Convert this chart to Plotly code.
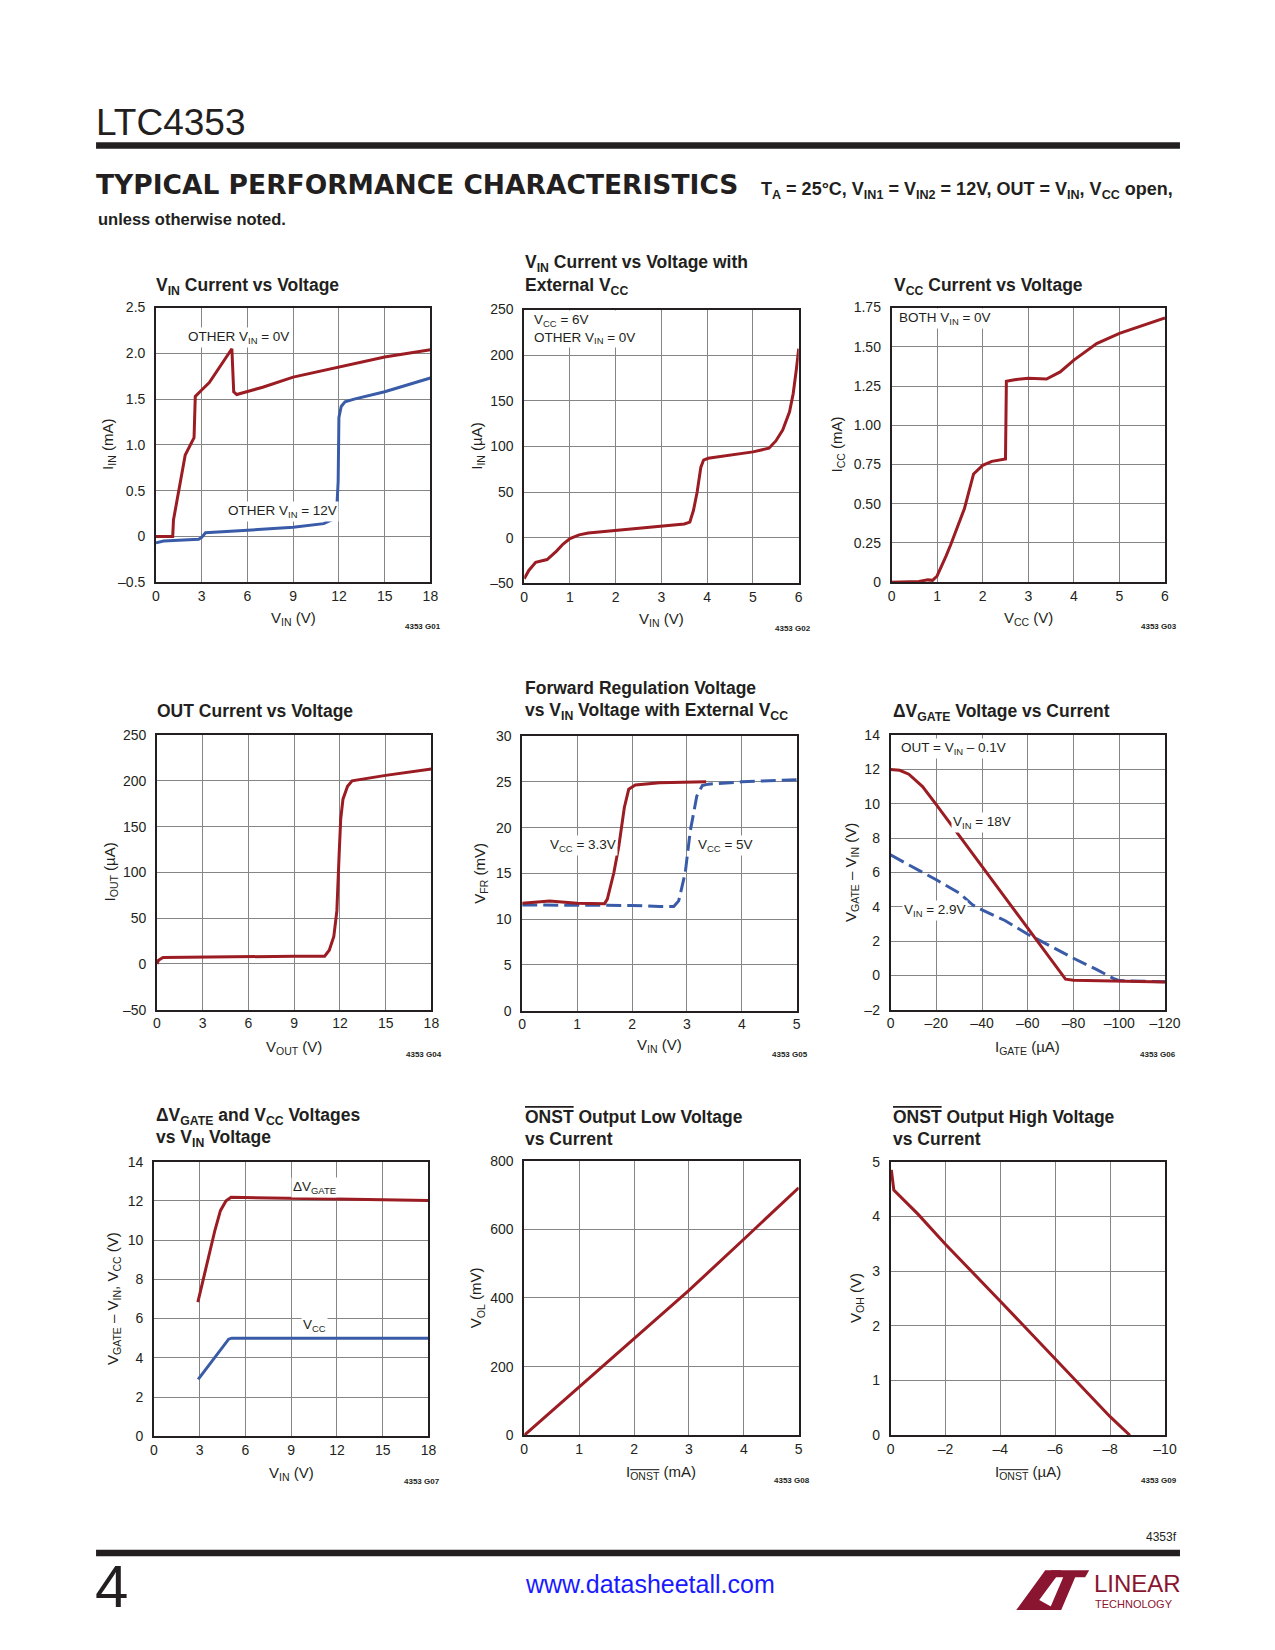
import plotly.graph_objects as go

PAGE_W, PAGE_H = 1275, 1650
OFF = 8                      # default body margin of the html page
W, H = PAGE_W - 2 * OFF, PAGE_H - 2 * OFF
# measured capture correction (page position -> photographed position)
AX, BX = 0.986, 2.9
AY, BY = 0.9913, 6.2
RED = "#9b1c22"
BLUE = "#3a5ca8"
INK = "#231f20"
GRID = "#858585"
FONT = "Liberation Sans, Arial, sans-serif"

# ---------------- data ----------------
# G01  VIN current vs voltage
g01_x_other0 = [0, 1.1, 1.15, 1.4, 1.92, 2.5, 2.58, 3.0, 3.5, 4.98, 5.1, 5.3, 6, 7, 9, 12, 15, 18]
g01_y_other0 = [0, 0, 0.18, 0.42, 0.89, 1.08, 1.53, 1.6, 1.68, 2.05, 1.58, 1.55, 1.58, 1.63, 1.74, 1.85, 1.96, 2.04]
g01_x_other12 = [0, 0.5, 2.8, 3.0, 3.25, 6, 9, 11, 11.5, 11.85, 11.95, 12.0, 12.15, 12.4, 13.0, 15, 18]
g01_y_other12 = [-0.07, -0.05, -0.03, -0.01, 0.04, 0.07, 0.10, 0.14, 0.18, 0.28, 0.6, 1.3, 1.42, 1.47, 1.5, 1.58, 1.73]

# G02  VIN current vs voltage with external VCC
g02_x = [0, 0.1, 0.25, 0.5, 0.7, 0.85, 1.0, 1.2, 1.4, 2.0, 3.0, 3.5, 3.62, 3.7, 3.78, 3.86, 3.92, 4.02, 5.0, 5.35, 5.5, 5.65, 5.8, 5.88, 5.95, 6.0]
g02_y = [-45, -36, -27, -24, -15, -7, -1, 3, 5, 8, 13, 15, 17, 30, 50, 77, 85, 87, 94, 98, 106, 118, 138, 158, 185, 207]

# G03  VCC current vs voltage
g03_x = [0, 0.6, 0.8, 0.9, 1.0, 1.1, 1.2, 1.3, 1.6, 1.8, 1.9, 2.0, 2.2, 2.5, 2.52, 2.7, 3.0, 3.4, 3.7, 4.0, 4.5, 5.0, 6.0]
g03_y = [0, 0.005, 0.015, 0.012, 0.04, 0.1, 0.17, 0.24, 0.47, 0.69, 0.72, 0.745, 0.77, 0.785, 1.28, 1.29, 1.30, 1.295, 1.34, 1.415, 1.52, 1.585, 1.684]

# G04  OUT current vs voltage
g04_x = [0, 0.1, 0.4, 3, 5, 9, 11.0, 11.3, 11.6, 11.8, 11.95, 12.05, 12.2, 12.5, 12.8, 15, 18]
g04_y = [0, 4, 7, 7.5, 8.5, 8.5, 8.5, 15, 30, 58, 120, 158, 180, 194, 200, 206, 213]

# G05  Forward regulation voltage
g05_x_33 = [0, 0.5, 1.0, 1.5, 1.55, 1.67, 1.76, 1.86, 1.94, 2.06, 2.5, 3.35]
g05_y_33 = [11.75, 12.0, 11.75, 11.7, 12.2, 15.1, 18.0, 22.2, 24.2, 24.65, 24.9, 25.0]
g05_x_5 = [0, 1, 2, 2.5, 2.76, 2.85, 2.97, 3.06, 3.18, 3.28, 3.39, 4.0, 5.0]
g05_y_5 = [11.55, 11.55, 11.5, 11.4, 11.4, 12.0, 15.1, 19.6, 23.45, 24.6, 24.75, 25.0, 25.24]

# G06  dVGATE vs current
g06_x_18 = [0, -4, -8, -11, -14, -20, -30, -40, -50, -60, -70, -75, -76.5, -80, -100, -120]
g06_y_18 = [12.0, 11.95, 11.72, 11.35, 11.0, 9.95, 8.15, 6.35, 4.55, 2.73, 0.9, 0.0, -0.22, -0.28, -0.34, -0.38]
g06_x_29 = [0, -10, -20, -30, -36, -40, -50, -60, -70, -80, -90, -98, -100, -120]
g06_y_29 = [7.02, 6.3, 5.57, 4.8, 4.1, 3.82, 3.2, 2.4, 1.7, 1.0, 0.35, -0.21, -0.3, -0.37]

# G07  dVGATE and VCC vs VIN
g07_x_gate = [2.88, 3.5, 4.0, 4.36, 4.73, 5.06, 9, 12, 15, 18]
g07_y_gate = [6.84, 8.9, 10.5, 11.5, 12.0, 12.18, 12.15, 12.1, 12.06, 12.02]
g07_x_vcc = [2.9, 4.9, 5.1, 18]
g07_y_vcc = [2.9, 4.95, 5.0, 5.0]

# G08  ONST output low voltage
g08_x = [0, 1, 2, 3, 4, 5]
g08_y = [0, 141, 280, 422, 571, 721]

# G09  ONST output high voltage
g09_x = [-0.03, -0.12, -1, -2, -4, -6, -8, -8.72]
g09_y = [4.85, 4.48, 4.04, 3.49, 2.45, 1.4, 0.34, 0]

# tick labels
t_x18 = [0, 3, 6, 9, 12, 15, 18]
t_x6 = [0, 1, 2, 3, 4, 5, 6]
t_x5 = [0, 1, 2, 3, 4, 5]
t_g01_y = [-0.5, 0, 0.5, 1.0, 1.5, 2.0, 2.5]
t_g01_ylab = ["–0.5", "0", "0.5", "1.0", "1.5", "2.0", "2.5"]
t_m50_250 = [-50, 0, 50, 100, 150, 200, 250]
t_m50_250_lab = ["–50", "0", "50", "100", "150", "200", "250"]
t_g03_y = [0, 0.25, 0.5, 0.75, 1.0, 1.25, 1.5, 1.75]
t_g03_ylab = ["0", "0.25", "0.50", "0.75", "1.00", "1.25", "1.50", "1.75"]
t_g05_y = [0, 5, 10, 15, 20, 25, 30]
t_g06_x = [0, -20, -40, -60, -80, -100, -120]
t_g06_xlab = ["0", "–20", "–40", "–60", "–80", "–100", "–120"]
t_g06_y = [-2, 0, 2, 4, 6, 8, 10, 12, 14]
t_g06_ylab = ["–2", "0", "2", "4", "6", "8", "10", "12", "14"]
t_g07_y = [0, 2, 4, 6, 8, 10, 12, 14]
t_g08_y = [0, 200, 400, 600, 800]
t_g09_x = [0, -2, -4, -6, -8, -10]
t_g09_xlab = ["0", "–2", "–4", "–6", "–8", "–10"]
t_g09_y = [0, 1, 2, 3, 4, 5]

OV = '<span style="text-decoration:overline">ONST</span>'

# ---------------- panel geometry (target pixels) ----------------
panels = [
    dict(box=(155, 430, 306, 581), xr=[0, 18], yr=[-0.5, 2.5], xt=t_x18, xl=None, yt=t_g01_y, yl=t_g01_ylab),
    dict(box=(524, 799, 308, 582), xr=[0, 6], yr=[-50, 250], xt=t_x6, xl=None, yt=t_m50_250, yl=t_m50_250_lab),
    dict(box=(892, 1166, 306, 581), xr=[0, 6], yr=[0, 1.75], xt=t_x6, xl=None, yt=t_g03_y, yl=t_g03_ylab),
    dict(box=(156, 431, 734, 1009), xr=[0, 18], yr=[-50, 250], xt=t_x18, xl=None, yt=t_m50_250, yl=t_m50_250_lab),
    dict(box=(522, 797, 735, 1010), xr=[0, 5], yr=[0, 30], xt=t_x5, xl=None, yt=t_g05_y, yl=None),
    dict(box=(891, 1166, 734, 1009), xr=[0, -120], yr=[-2, 14], xt=t_g06_x, xl=t_g06_xlab, yt=t_g06_y, yl=t_g06_ylab),
    dict(box=(153, 428, 1161, 1436), xr=[0, 18], yr=[0, 14], xt=t_x18, xl=None, yt=t_g07_y, yl=None),
    dict(box=(524, 799, 1160, 1435), xr=[0, 5], yr=[0, 800], xt=t_x5, xl=None, yt=t_g08_y, yl=None),
    dict(box=(891, 1166, 1161, 1435), xr=[0, -10], yr=[0, 5], xt=t_g09_x, xl=t_g09_xlab, yt=t_g09_y, yl=None),
]

titles = [
    (153, [285], ["V<sub>IN</sub> Current vs Voltage"]),
    (523, [262, 285], ["V<sub>IN</sub> Current vs Voltage with", "External V<sub>CC</sub>"]),
    (892, [285], ["V<sub>CC</sub> Current vs Voltage"]),
    (154, [710], ["OUT Current vs Voltage"]),
    (523, [687, 710], ["Forward Regulation Voltage", "vs V<sub>IN</sub> Voltage with External V<sub>CC</sub>"]),
    (891, [711], ["ΔV<sub>GATE</sub> Voltage vs Current"]),
    (153, [1116, 1138], ["ΔV<sub>GATE</sub> and V<sub>CC</sub> Voltages", "vs V<sub>IN</sub> Voltage"]),
    (523, [1116, 1138], [OV + " Output Low Voltage", "vs Current"]),
    (891, [1116, 1138], [OV + " Output High Voltage", "vs Current"]),
]

axis_titles = [
    ("V<sub>IN</sub> (V)", 617, "I<sub>IN</sub> (mA)", 108),
    ("V<sub>IN</sub> (V)", 618, "I<sub>IN</sub> (µA)", 477),
    ("V<sub>CC</sub> (V)", 617, "I<sub>CC</sub> (mA)", 838),
    ("V<sub>OUT</sub> (V)", 1047, "I<sub>OUT</sub> (µA)", 109),
    ("V<sub>IN</sub> (V)", 1045, "V<sub>FR</sub> (mV)", 480),
    ("I<sub>GATE</sub> (µA)", 1047, "V<sub>GATE</sub> – V<sub>IN</sub> (V)", 852),
    ("V<sub>IN</sub> (V)", 1473, "V<sub>GATE</sub> – V<sub>IN</sub>, V<sub>CC</sub> (V)", 113),
    ("I<sub>" + OV + "</sub> (mA)", 1472, "V<sub>OL</sub> (mV)", 477),
    ("I<sub>" + OV + "</sub> (µA)", 1472, "V<sub>OH</sub> (V)", 857),
]

codes = [("4353 G01", 443, 625), ("4353 G02", 813, 627), ("4353 G03", 1180, 625),
         ("4353 G04", 444, 1054), ("4353 G05", 810, 1054), ("4353 G06", 1179, 1054),
         ("4353 G07", 442, 1481), ("4353 G08", 812, 1480), ("4353 G09", 1180, 1480)]


def px(x):
    return ((x - BX) / AX - OFF) / W


def py(y):
    return 1 - ((y - BY) / AY - OFF) / H


TICK = 14
fig = go.Figure()
layout = dict(width=W, height=H, margin=dict(l=0, r=0, t=0, b=0), autosize=False,
              paper_bgcolor="white", plot_bgcolor="white", showlegend=False,
              font=dict(family=FONT, color=INK, size=TICK))

for i, p in enumerate(panels, start=1):
    l, r, t, b = p["box"]
    xa = dict(domain=[px(l), px(r)], range=p["xr"], tickmode="array", tickvals=p["xt"],
              showgrid=True, gridcolor=GRID, gridwidth=1.3, zeroline=False,
              showline=True, linecolor=INK, linewidth=1.6, mirror=True, ticks="",
              tickfont=dict(family=FONT, size=TICK, color=INK), anchor="y%d" % i,
              fixedrange=True)
    if p["xl"] is not None:
        xa["ticktext"] = p["xl"]
    ya = dict(domain=[py(b), py(t)], range=p["yr"], tickmode="array", tickvals=p["yt"],
              showgrid=True, gridcolor=GRID, gridwidth=1.3, zeroline=False,
              showline=True, linecolor=INK, linewidth=1.6, mirror=True, ticks="",
              tickfont=dict(family=FONT, size=TICK, color=INK), anchor="x%d" % i,
              ticklabelstandoff=6, fixedrange=True)
    if p["yl"] is not None:
        ya["ticktext"] = p["yl"]
    layout["xaxis" if i == 1 else "xaxis%d" % i] = xa
    layout["yaxis" if i == 1 else "yaxis%d" % i] = ya


def add_line(i, x, y, color, dash="solid"):
    fig.add_trace(go.Scatter(x=x, y=y, mode="lines", xaxis="x%d" % i if i > 1 else "x",
                             yaxis="y%d" % i if i > 1 else "y",
                             line=dict(color=color, width=3, dash=dash), hoverinfo="skip"))


DASH = "15px,6px"
add_line(1, g01_x_other12, g01_y_other12, BLUE)
add_line(1, g01_x_other0, g01_y_other0, RED)
add_line(2, g02_x, g02_y, RED)
add_line(3, g03_x, g03_y, RED)
add_line(4, g04_x, g04_y, RED)
add_line(5, g05_x_5, g05_y_5, BLUE, DASH)
add_line(5, g05_x_33, g05_y_33, RED)
add_line(6, g06_x_29, g06_y_29, BLUE, DASH)
add_line(6, g06_x_18, g06_y_18, RED)
add_line(7, g07_x_gate, g07_y_gate, RED)
add_line(7, g07_x_vcc, g07_y_vcc, BLUE)
add_line(8, g08_x, g08_y, RED)
add_line(9, g09_x, g09_y, RED)

ann = []
shapes = []

# chart titles
for (xl, ys, lines) in titles:
    for yy, txt in zip(ys, lines):
        ann.append(dict(text="<b>" + txt + "</b>", x=px(xl), y=py(yy), xref="paper", yref="paper",
                        xanchor="left", yanchor="middle", showarrow=False,
                        font=dict(family=FONT, size=17.5, color=INK)))

# axis titles
for i, (xt, xy, yt, yx) in enumerate(axis_titles):
    l, r, t, b = panels[i]["box"]
    ann.append(dict(text=xt, x=px((l + r) / 2), y=py(xy), xref="paper", yref="paper",
                    xanchor="center", yanchor="middle", showarrow=False,
                    font=dict(family=FONT, size=15, color=INK)))
    ann.append(dict(text=yt, x=px(yx), y=py((t + b) / 2), xref="paper", yref="paper",
                    xanchor="center", yanchor="middle", showarrow=False, textangle=-90,
                    font=dict(family=FONT, size=15, color=INK)))

# figure codes
for txt, xr_, yy in codes:
    ann.append(dict(text="<b>" + txt + "</b>", x=px(xr_), y=py(yy), xref="paper", yref="paper",
                    xanchor="right", yanchor="middle", showarrow=False,
                    font=dict(family=FONT, size=8, color=INK)))


def inplot(i, txt, x, y, xanchor="left"):
    ann.append(dict(text=txt, x=x, y=y, xref="x%d" % i if i > 1 else "x",
                    yref="y%d" % i if i > 1 else "y", xanchor=xanchor, yanchor="middle",
                    showarrow=False, bgcolor="white", borderpad=1, align="left",
                    font=dict(family=FONT, size=13.5, color=INK)))


inplot(1, "OTHER V<sub>IN</sub> = 0V", 2.0, 2.17)
inplot(1, "OTHER V<sub>IN</sub> = 12V", 4.58, 0.27)
inplot(2, "V<sub>CC</sub> = 6V<br>OTHER V<sub>IN</sub> = 0V", 0.17, 229)
inplot(3, "BOTH V<sub>IN</sub> = 0V", 0.11, 1.678)
inplot(5, "V<sub>CC</sub> = 3.3V", 1.10, 18.0, "center")
inplot(5, "V<sub>CC</sub> = 5V", 3.71, 18.0, "center")
inplot(6, "OUT = V<sub>IN</sub> – 0.1V", -3.5, 13.24)
inplot(6, "V<sub>IN</sub> = 18V", -40.1, 8.88, "center")
inplot(6, "V<sub>IN</sub> = 2.9V", -19.6, 3.76, "center")
inplot(7, "ΔV<sub>GATE</sub>", 10.54, 12.68, "center")
inplot(7, "V<sub>CC</sub>", 10.54, 5.65, "center")

# ---------------- page header / footer ----------------
ann.append(dict(text="LTC4353", x=px(93), y=py(121), xref="paper", yref="paper",
                xanchor="left", yanchor="middle", showarrow=False,
                font=dict(family=FONT, size=37, color=INK)))
shapes.append(dict(type="rect", xref="paper", yref="paper", x0=px(95), x1=px(1181),
                   y0=py(147), y1=py(140.5), fillcolor=INK, line=dict(width=0)))
ann.append(dict(text="<b>TYPICAL PERFORMANCE CHARACTERISTICS</b>", x=px(93), y=py(183),
                xref="paper", yref="paper", xanchor="left", yanchor="middle", showarrow=False,
                font=dict(family="DejaVu Sans, sans-serif", size=26.5, color=INK)))
ann.append(dict(text="<b>T<sub>A</sub> = 25°C, V<sub>IN1</sub> = V<sub>IN2</sub> = 12V, OUT = V<sub>IN</sub>, V<sub>CC</sub> open,</b>",
                x=px(1176), y=py(189), xref="paper", yref="paper", xanchor="right", yanchor="middle",
                showarrow=False, font=dict(family=FONT, size=18, color=INK)))
ann.append(dict(text="<b>unless otherwise noted.</b>", x=px(95), y=py(217), xref="paper", yref="paper",
                xanchor="left", yanchor="middle", showarrow=False,
                font=dict(family=FONT, size=16.5, color=INK)))

ann.append(dict(text="4353f", x=px(1180), y=py(1537), xref="paper", yref="paper",
                xanchor="right", yanchor="middle", showarrow=False,
                font=dict(family=FONT, size=12, color=INK)))
shapes.append(dict(type="rect", xref="paper", yref="paper", x0=px(95), x1=px(1181),
                   y0=py(1556), y1=py(1549.5), fillcolor=INK, line=dict(width=0)))
ann.append(dict(text="4", x=px(92), y=py(1586), xref="paper", yref="paper",
                xanchor="left", yanchor="middle", showarrow=False,
                font=dict(family=FONT, size=60, color=INK)))
ann.append(dict(text="www.datasheetall.com", x=px(650), y=py(1584), xref="paper", yref="paper",
                xanchor="center", yanchor="middle", showarrow=False,
                font=dict(family=FONT, size=25, color="#1a1aff")))

# Linear Technology logo
LOGO = "#8a1530"
shapes.append(dict(type="path", xref="paper", yref="paper", fillcolor=LOGO, line=dict(width=0),
                   path="M %f %f L %f %f L %f %f L %f %f L %f %f L %f %f Z" % (
                       px(1017), py(1610), px(1030), py(1592), px(1046), py(1570),
                       px(1062), py(1570), px(1040), py(1600), px(1058), py(1610))))
shapes.append(dict(type="path", xref="paper", yref="paper", fillcolor=LOGO, line=dict(width=0),
                   path="M %f %f L %f %f L %f %f L %f %f L %f %f L %f %f L %f %f L %f %f Z" % (
                       px(1052), py(1570), px(1090), py(1570), px(1086), py(1577),
                       px(1076), py(1577), px(1062), py(1610), px(1050), py(1610),
                       px(1064), py(1577), px(1048), py(1577))))
ann.append(dict(text="LINEAR", x=px(1093), y=py(1583), xref="paper", yref="paper",
                xanchor="left", yanchor="middle", showarrow=False,
                font=dict(family=FONT, size=24, color=LOGO)))
ann.append(dict(text="TECHNOLOGY", x=px(1094), y=py(1604), xref="paper", yref="paper",
                xanchor="left", yanchor="middle", showarrow=False,
                font=dict(family=FONT, size=11, color=LOGO)))

layout["annotations"] = ann
layout["shapes"] = shapes
fig.update_layout(**layout)
fig.write_html("out.html", config={"displayModeBar": False, "responsive": False})
